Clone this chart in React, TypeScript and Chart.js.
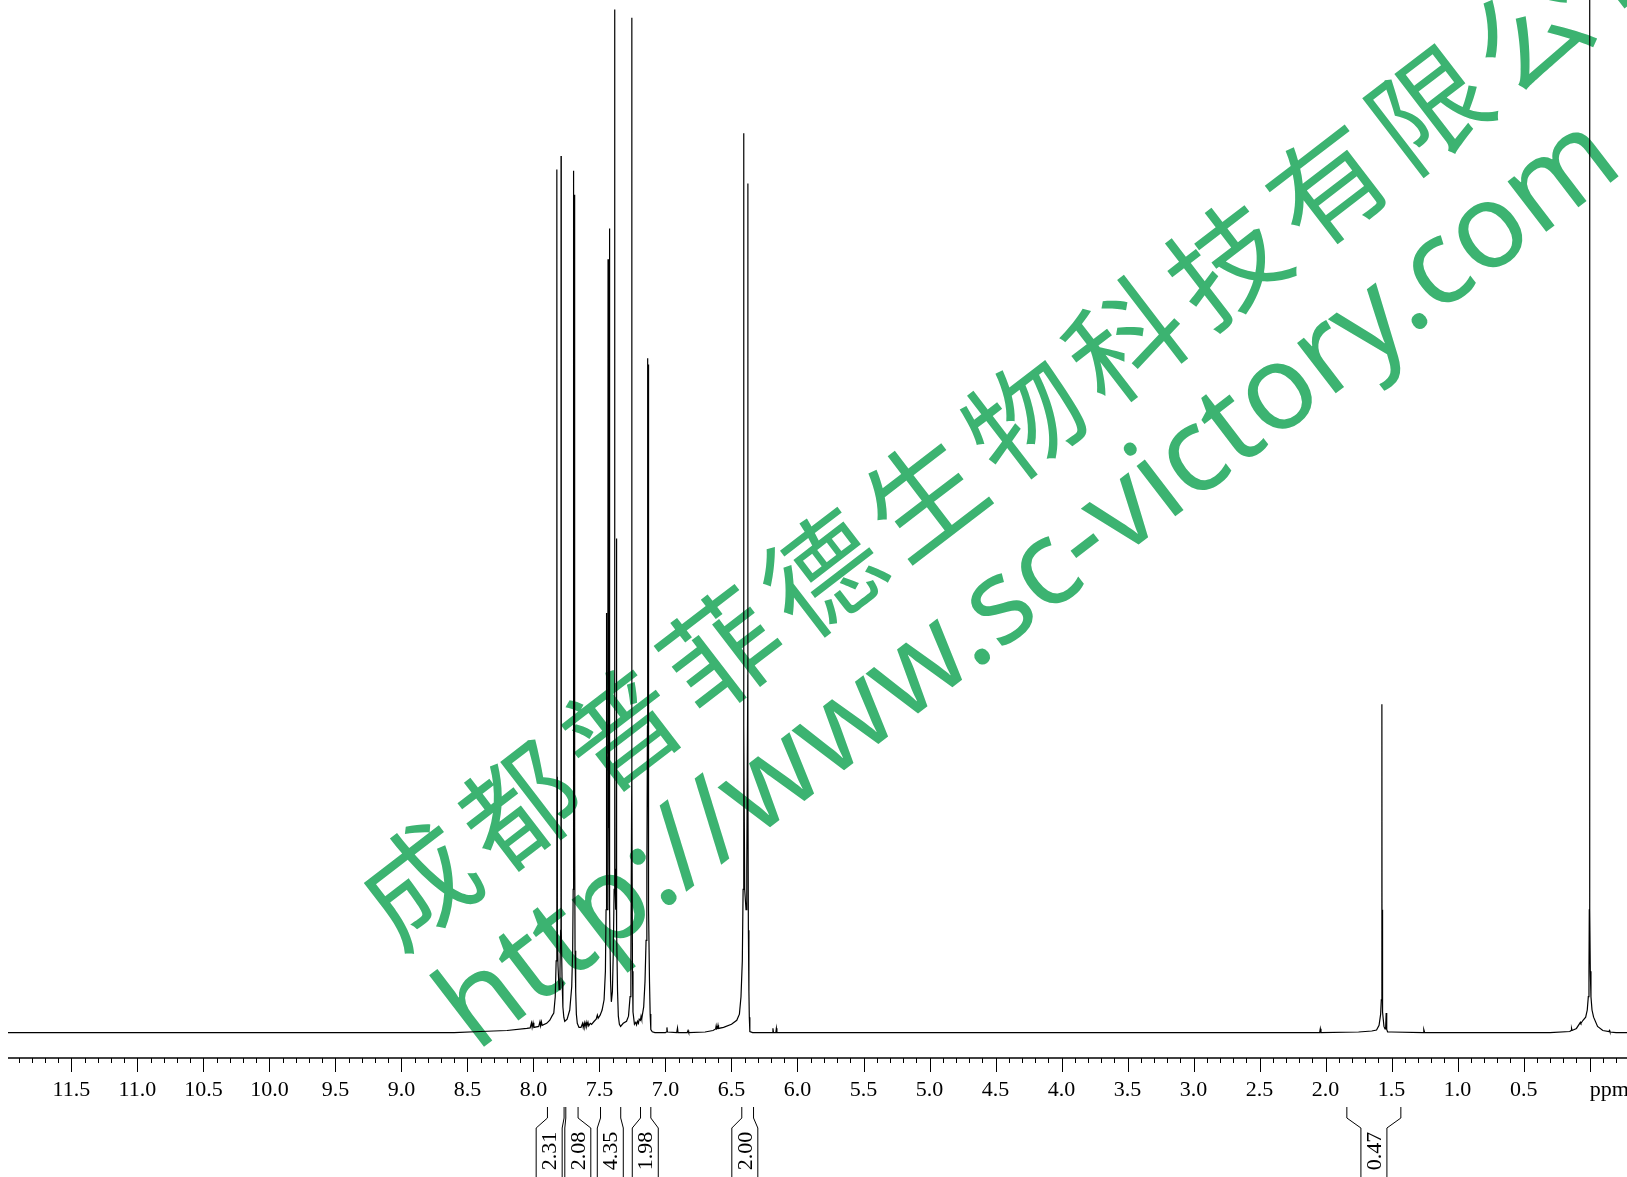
import React, { useEffect, useRef } from "react";
import { Chart, registerables } from "chart.js";

Chart.register(...registerables);

// ---------- spectrum trace (ppm, intensity) ----------
const lowFieldPpm = [11.98, 10.5, 9.0, 8.6, 8.4, 8.2, 8.05, 8.025, 8.015, 8.01, 8.003, 7.997, 7.96, 7.951, 7.946, 7.94, 7.934, 7.9, 7.876, 7.86, 7.846];
const lowFieldInt = [0, 0, 0, 0, 0.1, 0.2, 0.4, 0.45, 0.95, 0.5, 0.95, 0.5, 0.6, 1.05, 0.65, 1.05, 0.7, 0.9, 1.2, 1.6, 1.9];

const aromatic1Ppm = [7.835, 7.828, 7.824, 7.8225, 7.822, 7.8215, 7.819, 7.814, 7.806, 7.799, 7.794, 7.7915, 7.791, 7.7905, 7.788, 7.783, 7.777, 7.77, 7.763, 7.745, 7.725, 7.71, 7.703, 7.699, 7.6975, 7.697, 7.6965, 7.693, 7.689, 7.6885, 7.688, 7.6875, 7.685, 7.68, 7.675, 7.668, 7.655];
const aromatic1Int = [3.5, 7, 12, 25, 84.35, 25, 10, 6.5, 4.2, 6, 10, 25, 85.67, 25, 10, 5, 2.5, 1.5, 1.1, 1.3, 2.2, 4.5, 8, 14, 30, 84.25, 30, 28, 30, 40, 81.9, 20, 8, 4, 1.8, 0.9, 0.5];

const multipletPpm = [7.64, 7.628, 7.623, 7.615, 7.61, 7.601, 7.596, 7.587, 7.581, 7.57, 7.56, 7.54, 7.525, 7.516, 7.51, 7.495, 7.48, 7.465];
const multipletInt = [0.5, 0.9, 0.5, 0.95, 0.55, 1.0, 0.6, 1.0, 0.65, 0.9, 0.8, 1.1, 1.3, 1.7, 1.4, 1.7, 2.2, 3.2];

const aromatic2Ppm = [7.455, 7.45, 7.4475, 7.447, 7.4465, 7.444, 7.44, 7.437, 7.4355, 7.435, 7.4345, 7.43, 7.427, 7.4245, 7.424, 7.4235, 7.421, 7.416, 7.41, 7.402, 7.395, 7.389, 7.3855, 7.384, 7.3835, 7.381, 7.377, 7.373, 7.3715, 7.371, 7.3705, 7.368, 7.363, 7.357, 7.349, 7.34];
const aromatic2Int = [6, 12, 20, 41, 20, 12, 12, 18, 30, 75.6, 30, 20, 22, 30, 78.6, 25, 12, 5, 3, 4, 8, 14, 30, 100, 30, 14, 12, 16, 24, 48.3, 20, 10, 4, 1.6, 0.8, 0.6];

const aromatic3Ppm = [7.32, 7.295, 7.28, 7.268, 7.262, 7.2555, 7.255, 7.2545, 7.25, 7.246, 7.235, 7.225, 7.219, 7.212, 7.205, 7.199, 7.19, 7.185, 7.18, 7.174, 7.165, 7.155, 7.147, 7.141, 7.1365, 7.136, 7.1355, 7.133, 7.131, 7.1295, 7.129, 7.1285, 7.126, 7.121, 7.116, 7.111, 7.1, 7.08];
const aromatic3Int = [0.9, 1.1, 1.6, 3.5, 7, 25, 99.2, 25, 6, 2, 0.8, 1.0, 0.75, 1.1, 0.9, 1.3, 1.2, 1.6, 1.3, 1.8, 2.5, 5, 9, 16, 30, 65.9, 30, 28, 30, 30, 65.3, 25, 12, 5, 1.8, 0.3, 0.08, 0];

const olefinPpm = [7.0, 6.993, 6.989, 6.985, 6.915, 6.909, 6.905, 6.835, 6.829, 6.824, 6.7, 6.64, 6.62, 6.616, 6.612, 6.606, 6.602, 6.598, 6.56, 6.5, 6.46, 6.44, 6.428, 6.418, 6.412, 6.4075, 6.407, 6.4065, 6.4, 6.39, 6.384, 6.3765, 6.376, 6.3755, 6.372, 6.368, 6.365, 6.361, 6.34];
const olefinInt = [0, 0.05, 0.5, 0.05, 0, 0.45, 0, 0, 0.2, 0, 0.05, 0.2, 0.35, 0.65, 0.35, 0.4, 0.7, 0.4, 0.5, 0.8, 1.2, 1.8, 3.5, 7, 14, 30, 87.9, 30, 14, 12, 16, 35, 83.0, 25, 10, 4, 1.5, 0.1, 0];

const aliphaticPpm = [6.19, 6.186, 6.182, 6.164, 6.16, 6.156, 5.0, 4.0, 2.045, 2.04, 2.035, 1.75, 1.65, 1.614, 1.595, 1.583, 1.578, 1.5745, 1.5733, 1.573, 1.5727, 1.571, 1.566, 1.558, 1.55, 1.545, 1.541, 1.537, 1.53, 1.5, 1.262, 1.256, 1.25];
const aliphaticInt = [0, 0.42, 0, 0, 0.42, 0, 0, 0, 0, 0.38, 0, 0.05, 0.15, 0.25, 0.7, 1.8, 3.2, 8, 15, 32.1, 12, 5, 2, 0.6, 0.35, 0.5, 1.9, 0.3, 0.05, 0.05, 0, 0.28, 0];

const tmsPpm = [1.0, 0.3, 0.15, 0.141, 0.137, 0.133, 0.1, 0.075, 0.07, 0.066, 0.05, 0.03, 0.018, 0.01, 0.005, 0.0025, 0.001, 0.0, -0.001, -0.0025, -0.005, -0.01, -0.018, -0.03, -0.06, -0.1, -0.146, -0.15, -0.154, -0.2, -0.29];
const tmsInt = [0, 0, 0.1, 0.2, 0.4, 0.2, 0.4, 0.9, 1.0, 0.9, 1.2, 1.5, 2.2, 3.5, 6, 12, 40, 130, 40, 12, 6, 3.5, 2.2, 1.5, 0.6, 0.2, 0.1, 0.2, 0.05, 0, 0];

// ---------- axis ----------
const majorTicks = [11.5, 11.0, 10.5, 10.0, 9.5, 9.0, 8.5, 8.0, 7.5, 7.0, 6.5, 6.0, 5.5, 5.0, 4.5, 4.0, 3.5, 3.0, 2.5, 2.0, 1.5, 1.0, 0.5];
const majorTickLabels = ["11.5", "11.0", "10.5", "10.0", "9.5", "9.0", "8.5", "8.0", "7.5", "7.0", "6.5", "6.0", "5.5", "5.0", "4.5", "4.0", "3.5", "3.0", "2.5", "2.0", "1.5", "1.0", "0.5"];
const unitLabel = "ppm";
const xMinPpm = -0.283;
const xMaxPpm = 11.98;
const yMin = -2.49;
const yMax = 100.93;

// ---------- integrals ----------
const integralFrom = [7.894, 7.755, 7.492, 7.189, 6.422, 1.839];
const integralTo = [7.768, 7.662, 7.339, 7.111, 6.333, 1.43];
const integralLabelAt = [7.881, 7.664, 7.418, 7.153, 6.399, 1.634];
const integralValues = ["2.31", "2.08", "4.35", "1.98", "2.00", "0.47"];

// ---------- watermark ----------
const watermarkLines = ["成都普菲德生物科技有限公司", "http://www.sc-victory.com"];

export default function App() {
  const ref = useRef<HTMLCanvasElement>(null);

  useEffect(() => {
    const canvas = ref.current;
    if (!canvas) return;

    const ppmAll = [...lowFieldPpm, ...aromatic1Ppm, ...multipletPpm, ...aromatic2Ppm, ...aromatic3Ppm, ...olefinPpm, ...aliphaticPpm, ...tmsPpm];
    const intAll = [...lowFieldInt, ...aromatic1Int, ...multipletInt, ...aromatic2Int, ...aromatic3Int, ...olefinInt, ...aliphaticInt, ...tmsInt];
    const points = ppmAll.map((p, i) => ({ x: p, y: intAll[i] }));

    const green = "#3cb371";

    const decor = {
      id: "nmrDecor",
      beforeDatasetsDraw(chart: any) {
        const ctx = chart.ctx as CanvasRenderingContext2D;
        ctx.save();
        ctx.fillStyle = green;
        // line 1 (Chinese company name)
        ctx.save();
        ctx.translate(399, 953);
        ctx.rotate((-37.5 * Math.PI) / 180);
        ctx.font = '115px "Noto Sans CJK SC"';
        (ctx as any).letterSpacing = "12.4px";
        ctx.textAlign = "left";
        ctx.textBaseline = "alphabetic";
        ctx.fillText(watermarkLines[0], 0, 0);
        ctx.restore();
        // line 2 (URL)
        ctx.save();
        ctx.translate(476, 1053);
        ctx.rotate((-37.5 * Math.PI) / 180);
        (ctx as any).letterSpacing = "0px";
        ctx.font = '128px "Noto Sans"';
        const w = ctx.measureText(watermarkLines[1]).width;
        const size = (128 * 1450) / w;
        ctx.font = `${size}px "Noto Sans"`;
        ctx.textAlign = "left";
        ctx.textBaseline = "alphabetic";
        ctx.fillText(watermarkLines[1], 0, 0);
        ctx.restore();
        ctx.restore();
      },
      afterDraw(chart: any) {
        const ctx = chart.ctx as CanvasRenderingContext2D;
        const xs = chart.scales.x;
        const area = chart.chartArea;
        const axisY = area.bottom;
        ctx.save();
        (ctx as any).letterSpacing = "0px";
        ctx.strokeStyle = "#000";
        ctx.fillStyle = "#000";
        // axis line
        ctx.lineWidth = 1.5;
        ctx.beginPath();
        ctx.moveTo(area.left, axisY);
        ctx.lineTo(area.right, axisY);
        ctx.stroke();
        // ticks every 0.1 ppm, longer at every 0.5
        ctx.lineWidth = 1;
        ctx.beginPath();
        for (let i = -2; i <= 119; i++) {
          const v = i / 10;
          if (v < xMinPpm || v > xMaxPpm) continue;
          const px = Math.round(xs.getPixelForValue(v)) + 0.5;
          const len = i % 5 === 0 ? 14 : 5;
          ctx.moveTo(px, axisY);
          ctx.lineTo(px, axisY + len);
        }
        ctx.stroke();
        // labels
        ctx.font = '22px "Liberation Serif"';
        ctx.textAlign = "center";
        ctx.textBaseline = "alphabetic";
        majorTicks.forEach((v, i) => {
          ctx.fillText(majorTickLabels[i], xs.getPixelForValue(v), axisY + 38);
        });
        ctx.textAlign = "left";
        ctx.fillText(unitLabel, xs.getPixelForValue(0), axisY + 38);
        // integrals
        ctx.lineWidth = 1;
        const half = 13;
        integralValues.forEach((lab, i) => {
          const xa = xs.getPixelForValue(integralFrom[i]);
          const xb = xs.getPixelForValue(integralTo[i]);
          const c = xs.getPixelForValue(integralLabelAt[i]);
          ctx.beginPath();
          ctx.moveTo(xa, axisY + 49);
          ctx.lineTo(xa, axisY + 60);
          ctx.lineTo(c - half, axisY + 70);
          ctx.lineTo(c - half, axisY + 130);
          ctx.moveTo(xb, axisY + 49);
          ctx.lineTo(xb, axisY + 60);
          ctx.lineTo(c + half, axisY + 70);
          ctx.lineTo(c + half, axisY + 130);
          ctx.stroke();
          ctx.save();
          ctx.translate(c, axisY + 93);
          ctx.rotate(-Math.PI / 2);
          ctx.font = '22px "Liberation Serif"';
          ctx.textAlign = "center";
          ctx.textBaseline = "middle";
          ctx.fillText(lab, 0, 1);
          ctx.restore();
        });
        ctx.restore();
      },
    };

    const chart = new Chart(canvas, {
      type: "scatter",
      data: {
        datasets: [
          {
            data: points,
            showLine: true,
            borderColor: "#000",
            borderWidth: 1.2,
            pointRadius: 0,
            tension: 0,
            fill: false,
          } as any,
        ],
      },
      options: {
        animation: false,
        responsive: true,
        maintainAspectRatio: false,
        layout: { padding: { left: 8, right: 0, top: 0, bottom: 119 } },
        plugins: { legend: { display: false }, tooltip: { enabled: false } },
        events: [],
        scales: {
          x: { type: "linear", reverse: true, min: xMinPpm, max: xMaxPpm, display: false },
          y: { type: "linear", min: yMin, max: yMax, display: false },
        },
      },
      plugins: [decor],
    });

    let alive = true;
    if ((document as any).fonts && (document as any).fonts.ready) {
      (document as any).fonts.ready.then(() => {
        if (alive) chart.draw();
      });
    }
    return () => {
      alive = false;
      chart.destroy();
    };
  }, []);

  return (
    <div style={{ position: "fixed", left: 0, top: 0, width: 1627, height: 1177, background: "#fff" }}>
      <canvas ref={ref} />
    </div>
  );
}
